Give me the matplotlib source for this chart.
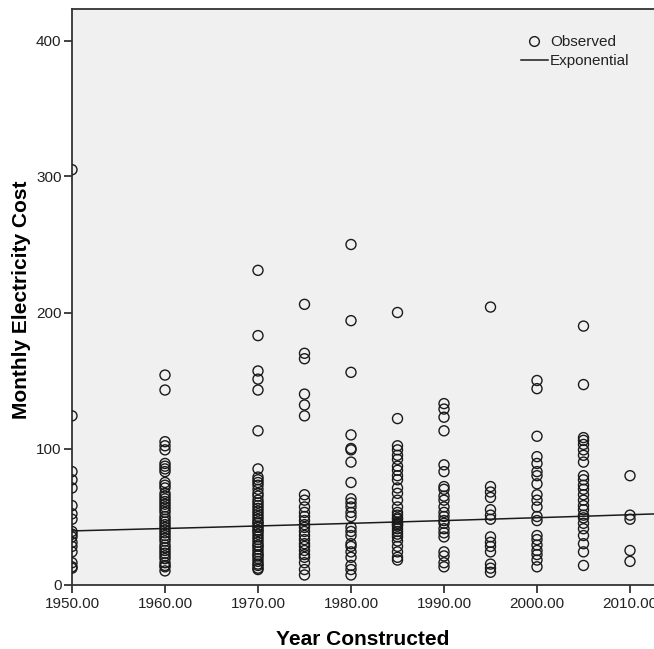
import numpy as np
import matplotlib
matplotlib.use("Agg")
import matplotlib.pyplot as plt
from matplotlib.lines import Line2D

plt.rcParams['font.family'] = ['Liberation Sans', 'DejaVu Sans']

# ---- data ----
years = [1950, 1960, 1970, 1975, 1980, 1985, 1990, 1995, 2000, 2005, 2010]

cost_1950 = [305, 124, 83, 77, 71, 58, 52, 48, 39, 37, 35, 31, 28, 24, 16, 13, 12]
cost_1960 = [154, 143, 105, 102, 99, 89, 87, 85, 83, 75, 73, 71, 67, 65, 63, 61, 59,
             57, 55, 53, 50, 48, 46, 44, 42, 40, 38, 36, 34, 32, 29, 27, 25, 23, 21,
             19, 16, 14, 13, 10]
cost_1970 = [231, 183, 157, 151, 143, 113, 85, 79, 77, 75, 73, 70, 67, 65, 62, 60, 58,
             56, 54, 52, 50, 48, 46, 45, 43, 42, 40, 39, 37, 35, 33, 31, 29, 28, 26,
             24, 22, 21, 19, 17, 15, 14, 12, 11]
cost_1975 = [206, 170, 166, 140, 132, 124, 66, 62, 57, 53, 50, 47, 44, 42, 39, 36, 33,
             30, 28, 25, 22, 20, 16, 11, 7]
cost_1980 = [250, 194, 156, 110, 100, 99, 90, 75, 63, 60, 57, 53, 50, 42, 39, 36, 30,
             28, 24, 20, 14, 11, 7]
cost_1985 = [200, 122, 102, 99, 95, 92, 87, 84, 80, 77, 71, 67, 62, 57, 53, 51, 49, 48,
             46, 45, 44, 43, 41, 39, 37, 35, 32, 28, 24, 20, 18]
cost_1990 = [133, 129, 123, 113, 88, 83, 72, 70, 65, 62, 57, 53, 50, 47, 45, 41, 38, 35,
             24, 21, 16, 13]
cost_1995 = [204, 72, 68, 64, 55, 51, 48, 35, 31, 28, 24, 15, 12, 9]
cost_2000 = [150, 144, 109, 94, 89, 83, 80, 74, 66, 62, 57, 50, 47, 36, 33, 29, 25, 22,
             18, 13]
cost_2005 = [190, 147, 108, 106, 103, 99, 95, 90, 80, 77, 73, 70, 66, 62, 58, 55, 51, 49,
             45, 41, 36, 30, 24, 14]
cost_2010 = [80, 51, 48, 25, 17]

cost_by_year = [cost_1950, cost_1960, cost_1970, cost_1975, cost_1980, cost_1985,
                cost_1990, cost_1995, cost_2000, cost_2005, cost_2010]

# Exponential model shown in the chart: y = b0 * exp(b1 * (year - 1950))
exp_b0 = 39.4
exp_b1 = 0.0044

x_ticks = [1950, 1960, 1970, 1980, 1990, 2000, 2010]
x_ticklabels = ["1950.00", "1960.00", "1970.00", "1980.00", "1990.00", "2000.00", "2010.00"]
y_ticks = [0, 100, 200, 300, 400]

# flatten
xs = np.concatenate([[yr] * len(c) for yr, c in zip(years, cost_by_year)]).astype(float)
ys = np.concatenate(cost_by_year).astype(float)

# ---- figure ----
W, H = 654, 649
fig = plt.figure(figsize=(W / 100, H / 100), dpi=100)
fig.patch.set_facecolor('white')
left_px, right_px, bottom_px, top_px = 72, 654, 584.5, 9
ax = fig.add_axes([left_px / W, 1 - bottom_px / H,
                   (right_px - left_px) / W, (bottom_px - top_px) / H])
ax.set_facecolor('#F0F0F0')

xmin = 1950
xmax = 1950 + (right_px - left_px) / 9.3
ymax = (bottom_px - top_px) / 1.36
ax.set_xlim(xmin, xmax)
ax.set_ylim(0, ymax)

ax.scatter(xs, ys, s=52, facecolors='none', edgecolors='#1a1a1a', linewidths=1.0,
           zorder=3)

xline = np.linspace(xmin, xmax, 200)
ax.plot(xline, exp_b0 * np.exp(exp_b1 * (xline - 1950)), color='#1a1a1a', lw=1.1,
        zorder=4)

ax.set_xticks(x_ticks)
ax.set_xticklabels(x_ticklabels)
ax.set_yticks(y_ticks)
ax.tick_params(axis='both', direction='out', length=6, width=1.2, colors='#222222',
               labelsize=11)
ax.tick_params(axis='x', pad=3)
ax.tick_params(axis='y', pad=1.5)

for s in ['left', 'bottom', 'top']:
    ax.spines[s].set_color('#333333')
    ax.spines[s].set_linewidth(1.3)
ax.spines['right'].set_visible(False)

ax.set_ylabel('Monthly Electricity Cost', fontsize=15, fontweight='bold')
ax.yaxis.set_label_coords((31 - left_px) / (right_px - left_px), 0.495)
ax.set_xlabel('Year Constructed', fontsize=15, fontweight='bold', labelpad=14)

handles = [Line2D([], [], marker='o', linestyle='none', markerfacecolor='none',
                  markeredgecolor='#1a1a1a', markersize=7, markeredgewidth=1.0),
           Line2D([], [], color='#1a1a1a', lw=1.1)]
leg = fig.legend(handles, ['Observed', 'Exponential'], loc='upper left',
                 bbox_to_anchor=(521 / W, 1 - 35 / H), frameon=False, fontsize=11,
                 handlelength=1.75, handletextpad=0.15, labelspacing=0.35,
                 borderpad=0, borderaxespad=0)
for t in leg.get_texts():
    t.set_color('#222222')

fig.savefig('out.png', dpi=100)
